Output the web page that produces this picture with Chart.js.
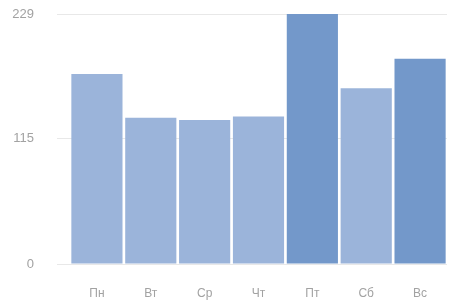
<!DOCTYPE html>
<html>
<head>
<meta charset="utf-8">
<script src="https://cdn.jsdelivr.net/npm/chart.js@4/dist/chart.umd.min.js"></script>
<style>
    html, body { margin: 0; padding: 0; background: #fff; overflow: hidden; }
    canvas { display: block; }
</style>
</head>
<body>
<canvas id="weekChart" width="457" height="303"></canvas>
<script>
const days = ['Пн', 'Вт', 'Ср', 'Чт', 'Пт', 'Сб', 'Вс'];
const counts = [174, 134, 132, 135, 229, 161, 188];
const tickValues = [0, 115, 229];
// Пт and Вс are drawn in the darker shade
const highlighted = ['Пт', 'Вс'];

const lightBlue = '#9bb4da';
const darkBlue = '#7398ca';

const ctx = document.getElementById('weekChart').getContext('2d');
new Chart(ctx, {
    type: 'bar',
    data: {
        labels: days,
        datasets: [{
            data: counts,
            backgroundColor: days.map(d => highlighted.includes(d) ? darkBlue : lightBlue),
            borderWidth: 0,
            categoryPercentage: 1,
            barPercentage: 0.95
        }]
    },
    options: {
        responsive: false,
        animation: false,
        layout: {
            padding: { top: 14, left: 0, right: 10, bottom: 0 }
        },
        scales: {
            x: {
                grid: { display: false, drawTicks: false },
                border: { display: false },
                afterFit: axis => { axis.height = 39; },
                ticks: {
                    color: '#a2a2a2',
                    padding: 22,
                    font: { family: 'Liberation Sans, Arial, sans-serif', size: 12 }
                }
            },
            y: {
                min: 0,
                max: 229,
                afterBuildTicks: axis => {
                    axis.ticks = tickValues.map(v => ({ value: v }));
                },
                afterFit: axis => {
                    axis.width = 70;
                    // tick padding is horizontal here, don't let it push the plot down
                    axis.paddingTop = 0;
                    axis.paddingBottom = 0;
                },
                grid: {
                    color: '#e8e8e8',
                    lineWidth: 1,
                    tickLength: 13,
                    tickColor: '#e8e8e8'
                },
                border: { display: false },
                ticks: {
                    color: '#a2a2a2',
                    padding: 23,
                    font: { family: 'Liberation Sans, Arial, sans-serif', size: 13 }
                }
            }
        },
        plugins: {
            legend: { display: false },
            tooltip: { enabled: false }
        }
    }
});
</script>
</body>
</html>
